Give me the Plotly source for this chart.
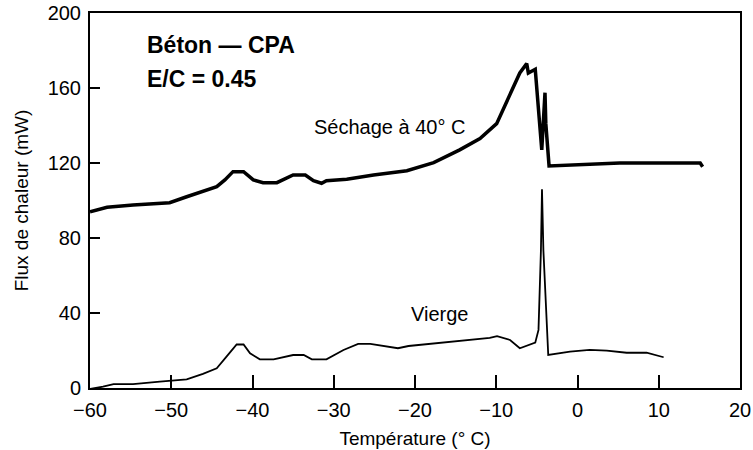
import plotly.graph_objects as go

# Séchage à 40° C (thick curve)
sechage_t = [-60, -57.9, -54.7, -52.2, -50.2, -48.1, -44.4, -43.4, -42.4, -41.1, -39.9, -38.7,
             -37.0, -35.0, -33.5, -32.5, -31.5, -30.9, -28.4, -25.1, -21.0, -17.7, -14.5, -12.0,
             -9.95, -7.1, -6.25, -6.05, -5.2, -4.4, -4.0, -3.9, -3.5, 5.2, 15.1, 15.4]
sechage_flux = [94, 96.4, 97.6, 98.5, 98.8, 102, 107.4, 111, 115.4, 115.4, 111, 109.5,
                109.5, 113.6, 113.6, 110.6, 109.2, 110.6, 111.3, 113.6, 115.9, 120.2, 127, 133,
                141, 168, 173, 168, 170, 127, 157.5, 141, 118.4, 120, 120, 118]

# Vierge (thin curve)
vierge_t = [-60, -58.4, -57.1, -54.7, -51.4, -48.1, -46.1, -44.4, -43.2, -41.95, -41.1, -40.3,
            -39.1, -37.4, -35.0, -33.7, -32.7, -30.9, -28.8, -27.0, -25.5, -23.9, -22.1, -20.8,
            -14.5, -10.8, -9.9, -8.3, -7.1, -5.2, -4.8, -4.5, -4.37, -4.2, -3.6, -0.92, 1.5,
            3.6, 6.05, 8.5, 10.6]
vierge_flux = [-0.5, 0.7, 2.1, 2.1, 3.4, 4.6, 7.5, 10.5, 16.7, 23.2, 23.2, 18.5,
               15.3, 15.3, 17.6, 17.6, 15.3, 15.3, 20.3, 23.5, 23.5, 22.4, 21.2, 22.4,
               25.2, 26.7, 27.7, 25.6, 21.2, 24.2, 31, 73.6, 106, 73.6, 17.6, 19.4, 20.3,
               19.9, 18.8, 18.8, 16.4]

x_ticks = [-60, -50, -40, -30, -20, -10, 0, 10, 20]
x_tick_text = ["\u221260", "\u221250", "\u221240", "\u221230", "\u221220", "\u221210", "0", "10", "20"]
y_ticks = [0, 40, 80, 120, 160, 200]

FONT = "Liberation Sans, Arial, Helvetica, sans-serif"

fig = go.Figure()
fig.add_trace(go.Scatter(x=sechage_t, y=sechage_flux, mode="lines",
                         line=dict(color="black", width=3.5), showlegend=False, cliponaxis=False))
fig.add_trace(go.Scatter(x=vierge_t, y=vierge_flux, mode="lines",
                         line=dict(color="black", width=1.8), showlegend=False, cliponaxis=False))

fig.add_annotation(x=-53.2, y=183, text="<b>Béton — CPA</b>", showarrow=False,
                   xanchor="left", yanchor="middle", font=dict(size=23, color="black", family=FONT))
fig.add_annotation(x=-53.2, y=165, text="<b>E/C = 0.45</b>", showarrow=False,
                   xanchor="left", yanchor="middle", font=dict(size=23, color="black", family=FONT))
fig.add_annotation(x=-32.7, y=139, text="Séchage à 40° C", showarrow=False,
                   xanchor="left", yanchor="middle", font=dict(size=20, color="black", family=FONT))
fig.add_annotation(x=-20.8, y=39.5, text="Vierge", showarrow=False,
                   xanchor="left", yanchor="middle", font=dict(size=20, color="black", family=FONT))

fig.update_layout(
    width=753, height=450,
    margin=dict(l=90, r=13, t=13, b=62),
    paper_bgcolor="white", plot_bgcolor="white",
    font=dict(family=FONT, size=20, color="black"),
    xaxis=dict(range=[-60, 20], tickvals=x_ticks, ticktext=x_tick_text, automargin=False,
               ticks="inside", ticklen=13, tickwidth=2, tickcolor="black",
               showline=True, linewidth=2, linecolor="black", mirror=True,
               showgrid=False, zeroline=False, ticklabelstandoff=3,
               title=dict(text="Température (° C)", font=dict(size=19), standoff=12)),
    yaxis=dict(range=[0, 200], tickvals=y_ticks, automargin=False,
               ticks="inside", ticklen=10, tickwidth=2, tickcolor="black",
               showline=True, linewidth=2, linecolor="black", mirror=True,
               showgrid=False, zeroline=False, ticklabelstandoff=3,
               title=dict(text="Flux de chaleur (mW)", font=dict(size=19), standoff=14)),
)

fig.write_html("out.html", config={"displayModeBar": False},
               post_script="document.body.style.margin='0';document.body.style.overflow='hidden';")
